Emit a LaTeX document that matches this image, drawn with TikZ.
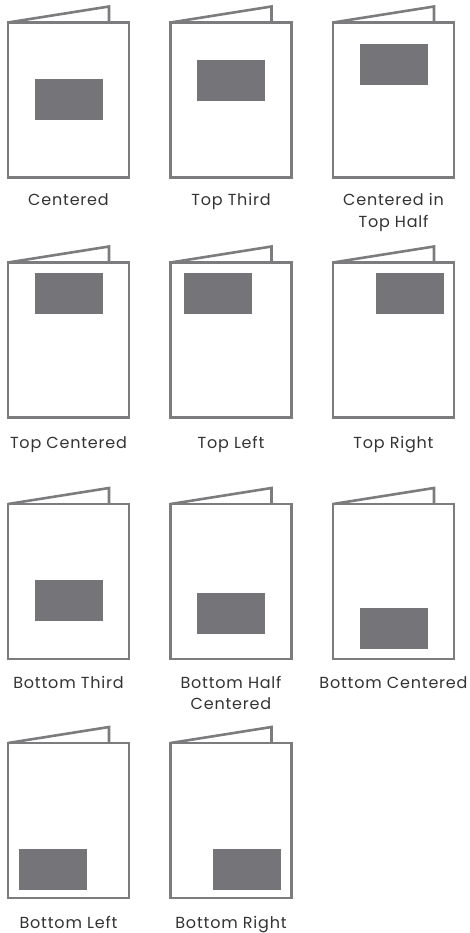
\documentclass[tikz,border=0pt]{standalone}
\usepackage{fontspec}
\setmainfont{Poppins}[LetterSpace=5]
\usetikzlibrary{positioning}
\definecolor{cardline}{RGB}{124,124,126}
\definecolor{cardfill}{RGB}{117,117,121}
\definecolor{labeltext}{RGB}{51,51,51}

\begin{document}
\begin{tikzpicture}[
  x=1pt, y=1pt,
  font=\fontsize{16}{21.5}\selectfont,
  card/.style={draw=cardline, line width=2.6pt, minimum width=121pt,
    minimum height=155pt, inner sep=0pt, outer sep=0pt},
  img/.style={fill=cardfill, minimum width=68pt, minimum height=41pt,
    inner sep=0pt, outer sep=0pt},
  flap/.style={draw=cardline, line width=2.6pt, line join=miter},
  caption/.style={text=labeltext, align=center, inner sep=0pt}
]
  \useasboundingbox (0,0) rectangle (470,-933);

  % cards
  \node[card] (c1) at (68.5,-100) {};
  \node[card, right=41.5pt of c1] (c2) {};
  \node[card, right=41.5pt of c2] (c3) {};
  \node[card, below=85pt of c1] (c4) {};
  \node[card, right=41.5pt of c4] (c5) {};
  \node[card, right=41.5pt of c5] (c6) {};
  \node[card, below=86.5pt of c4] (c7) {};
  \node[card, right=41.5pt of c7] (c8) {};
  \node[card, right=41.5pt of c8] (c9) {};
  \node[card, below=84pt of c7] (c10) {};
  \node[card, right=41.5pt of c10] (c11) {};

  \foreach \c in {c1,c2,c3,c4,c5,c6,c7,c8,c9,c10,c11}
    \draw[flap] (\c.north west) -- ++(101,16) -- ++(0,-16);

  % image placements
  \node[img] (i1) at (c1.center) {};
  \node[img, below=37.5pt of c2.north] (i2) {};
  \node[img, below=21.5pt of c3.north] (i3) {};
  \node[img, below=10.5pt of c4.north] (i4) {};
  \node[img, below right=10.5pt and 13.5pt of c5.north west] (i5) {};
  \node[img, below left=10.5pt and 10pt of c6.north east] (i6) {};
  \node[img, below=76pt of c7.north] (i7) {};
  \node[img, below=89pt of c8.north] (i8) {};
  \node[img, above=10pt of c9.south] (i9) {};
  \node[img, above right=8pt and 11pt of c10.south west] (i10) {};
  \node[img, above left=8pt and 11pt of c11.south east] (i11) {};

  % captions
  \node[caption, below=16pt of c1] (t1) {Centered};
  \node[caption, below=16pt of c2] (t2) {Top Third};
  \node[caption, below=16pt of c3] (t3) {Centered in\\Top Half};
  \node[caption, below=19pt of c4] (t4) {Top Centered};
  \node[caption, below=19pt of c5] (t5) {Top Left};
  \node[caption, below=19pt of c6] (t6) {Top Right};
  \node[caption, below=17pt of c7] (t7) {Bottom Third};
  \node[caption, below=17pt of c8] (t8) {Bottom Half\\Centered};
  \node[caption, below=17pt of c9] (t9) {Bottom Centered};
  \node[caption, below=18pt of c10] (t10) {Bottom Left};
  \node[caption, below=18pt of c11] (t11) {Bottom Right};
\end{tikzpicture}
\end{document}
